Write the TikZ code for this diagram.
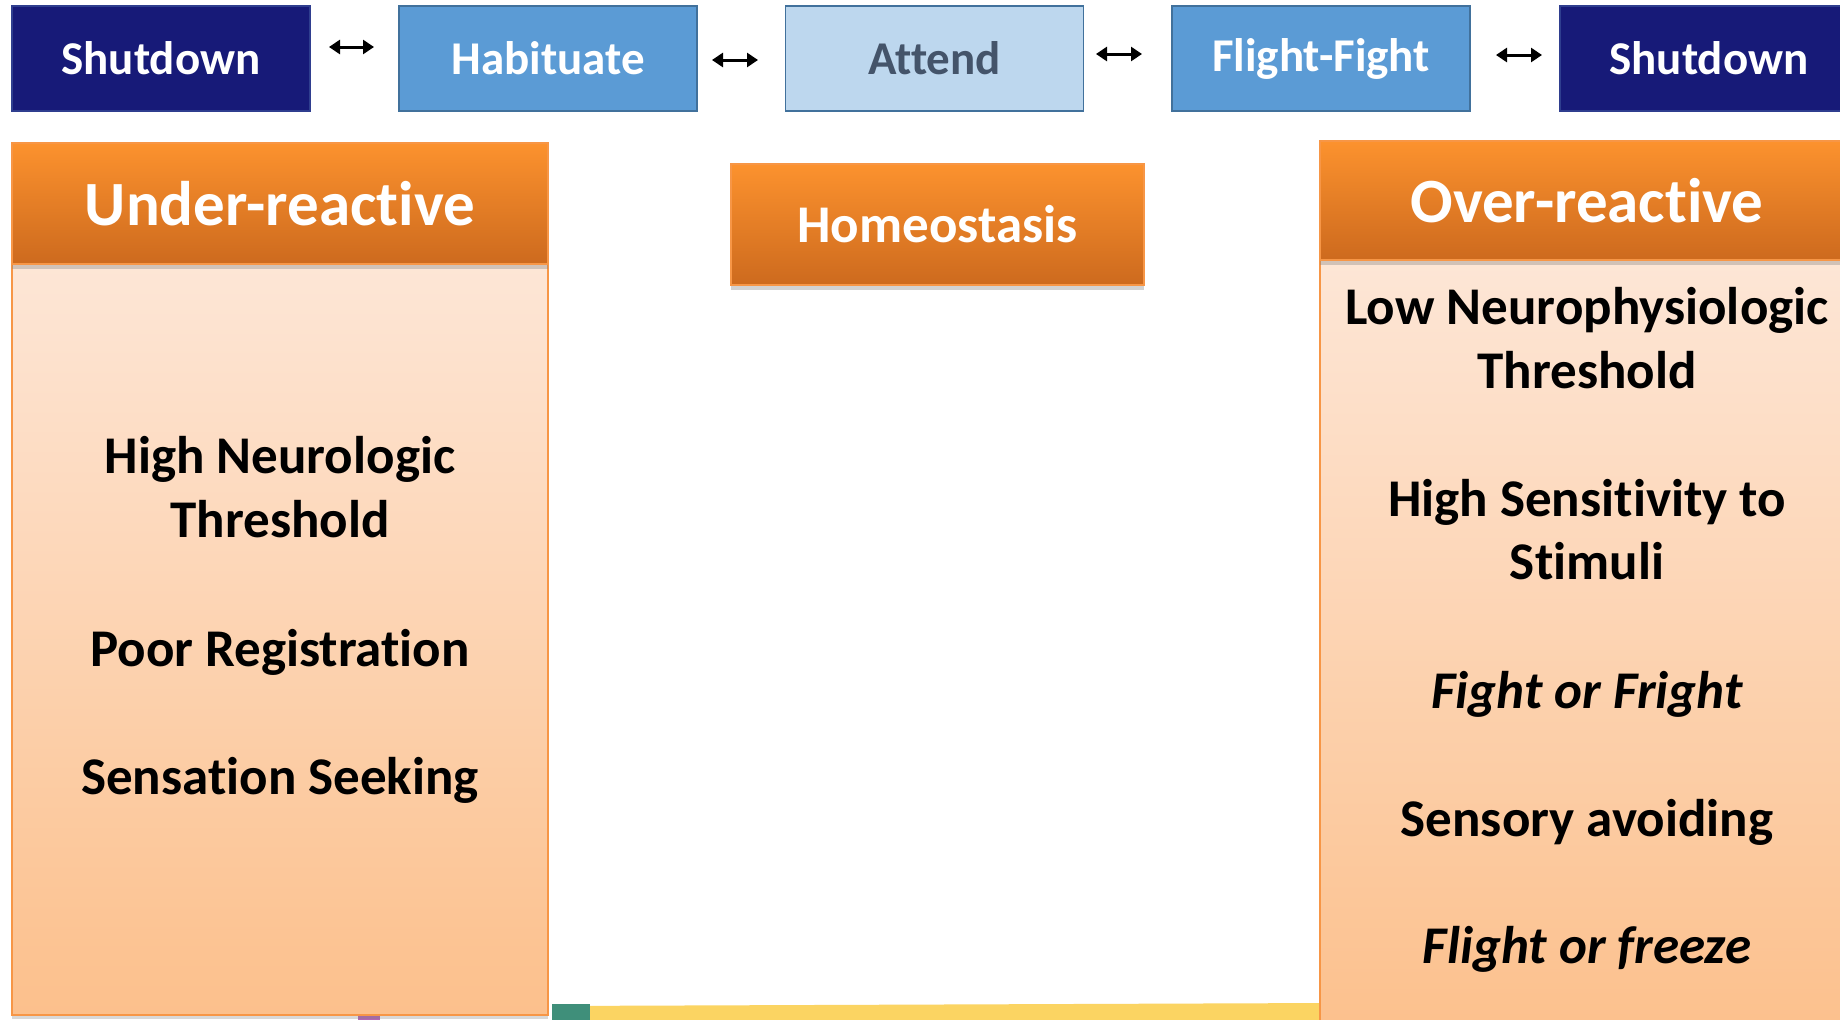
\documentclass[tikz,border=0pt]{standalone}
\usepackage{fontspec}
\setmainfont{Carlito}[Ligatures=NoCommon]
\usetikzlibrary{shadows,arrows.meta}
\definecolor{navy}{HTML}{171A78}
\definecolor{navyline}{HTML}{2F3E8F}
\definecolor{midblue}{HTML}{5B9BD5}
\definecolor{lightblue}{HTML}{BDD7EE}
\definecolor{boxline}{HTML}{41719C}
\definecolor{slate}{HTML}{44546A}
\definecolor{orTop}{HTML}{FC922E}
\definecolor{orBot}{HTML}{CD6A1E}
\definecolor{orLine}{HTML}{F79646}
\definecolor{peachTop}{HTML}{FDE6D6}
\definecolor{peachBot}{HTML}{FCC08C}
\definecolor{stripY}{HTML}{FBD462}
\definecolor{stripG}{HTML}{3F8F7A}
\tikzset{
  topbox/.style={rectangle, minimum width=298pt, minimum height=105pt, inner sep=0pt,
    draw=boxline, line width=1.8pt, font=\fontsize{47}{56}\selectfont\bfseries},
  header/.style={rectangle, inner sep=0pt, draw=orLine, line width=1.2pt,
    top color=orTop, bottom color=orBot, text=white,
    drop shadow={opacity=0.35, shadow xshift=0pt, shadow yshift=-5pt}},
  bodybox/.style={rectangle, inner sep=0pt, draw=orLine, line width=1.5pt,
    top color=peachTop, bottom color=peachBot,
    drop shadow={opacity=0.3, shadow xshift=0pt, shadow yshift=-4pt}},
  bodytext/.style={inner sep=0pt, text height=0.75em, text depth=0.25em,
    font=\fontsize{53}{64}\selectfont\bfseries},
  arr/.style={{Triangle[length=11pt,width=14pt]}-{Triangle[length=11pt,width=14pt]}, line width=3pt, black}
}
\begin{document}
\begin{tikzpicture}[x=1pt,y=-1pt]
\useasboundingbox (0,0) rectangle (1840,1020);
\clip (0,0) rectangle (1840,1020);
\fill[white] (0,0) rectangle (1840,1020);

% strip of the picture below
\fill[stripY] (552,1006) -- (1330,1003) -- (1330,1020) -- (552,1020) -- cycle;
\fill[stripG] (552,1004) rectangle (590,1020);
\fill[violet!60] (358,1012) rectangle (380,1020);

% top row
\node[topbox, draw=navyline, fill=navy, text=white] (s1) at (161,58.5) {Shutdown};
\node[topbox, fill=midblue, text=white] (hab) at (548,58.5) {Habituate};
\node[topbox, fill=lightblue, text=slate] (att) at (934.5,58.5) {Attend};
\node[topbox, fill=midblue, text=white] (ff) at (1321,58.5) {Flight-Fight};
\node[topbox, draw=navyline, fill=navy, text=white] (s2) at (1709,58.5) {Shutdown};

\coordinate (a1l) at (329,47);  \coordinate (a1r) at (374,47);
\coordinate (a2l) at (712,60);  \coordinate (a2r) at (758,60);
\coordinate (a3l) at (1096,54); \coordinate (a3r) at (1142,54);
\coordinate (a4l) at (1496,55); \coordinate (a4r) at (1542,55);
\draw[arr] (a1l) -- (a1r);
\draw[arr] (a2l) -- (a2r);
\draw[arr] (a3l) -- (a3r);
\draw[arr] (a4l) -- (a4r);

% left column
\node[bodybox, minimum width=536pt, minimum height=751pt] (lbody) at (280,639.5) {};
\node[header, minimum width=536pt, minimum height=121pt,
  font=\fontsize{63}{70}\selectfont\bfseries] (lhead) at (280,203.5) {Under-reactive};
\node[bodytext] (l1) at (280,471) {High Neurologic};
\node[bodytext] (l2) at (280,535) {Threshold};
\node[bodytext] (l3) at (280,664) {Poor Registration};
\node[bodytext] (l4) at (280,792) {Sensation Seeking};

% centre
\node[header, minimum width=413pt, minimum height=121pt,
  font=\fontsize{53}{60}\selectfont\bfseries] (homeo) at (937.5,224.5) {Homeostasis};

% right column
\node[bodybox, minimum width=534pt, minimum height=780pt] (rbody) at (1587,650) {};
\node[header, minimum width=534pt, minimum height=119pt,
  font=\fontsize{63}{70}\selectfont\bfseries] (rhead) at (1587,200.5) {Over-reactive};
\node[bodytext] (r1) at (1587,322) {Low Neurophysiologic};
\node[bodytext] (r2) at (1587,386) {Threshold};
\node[bodytext] (r3) at (1587,514) {High Sensitivity to};
\node[bodytext] (r4) at (1587,577) {Stimuli};
\node[bodytext, font=\fontsize{53}{64}\selectfont\bfseries\itshape] (r5) at (1587,706) {Fight or Fright};
\node[bodytext] (r6) at (1587,834) {Sensory avoiding};
\node[bodytext, font=\fontsize{53}{64}\selectfont\bfseries\itshape] (r7) at (1587,961) {Flight or freeze};
\end{tikzpicture}
\end{document}
